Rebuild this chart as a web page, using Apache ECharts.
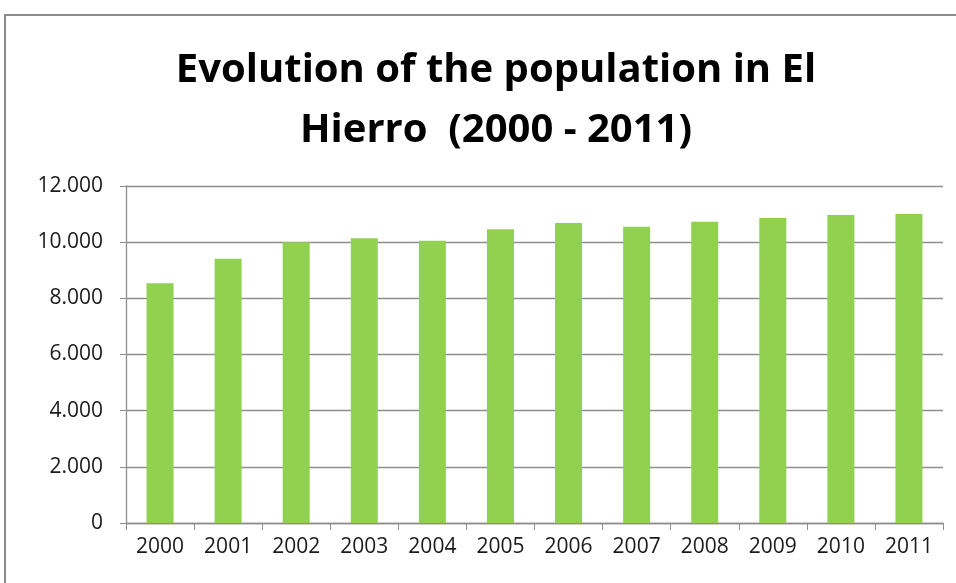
<!DOCTYPE html>
<html>
<head>
<meta charset="utf-8">
<script src="https://cdn.jsdelivr.net/npm/echarts@6/dist/echarts.min.js"></script>
<style>
    html, body { margin: 0; padding: 0; background: #fff; }
    #chart { width: 956px; height: 583px; }
</style>
</head>
<body>
<div id="chart"></div>
<script>
// years on the x axis
var years = ['2000', '2001', '2002', '2003', '2004', '2005', '2006', '2007', '2008', '2009', '2010', '2011'];
// inhabitants
var population = [8536, 9413, 9995, 10139, 10054, 10459, 10684, 10552, 10730, 10862, 10969, 11004];
// y axis ticks
var yTicks = [0, 2000, 4000, 6000, 8000, 10000, 12000];

var titleText = 'Evolution of the population in El\nHierro  (2000 - 2011)';
var labelFont = '"Open Sans", "Liberation Sans", sans-serif';

// 12000 -> "12.000"
function dotThousands(v) {
    return String(v).replace(/\B(?=(\d{3})+(?!\d))/g, '.');
}

var chart = echarts.init(document.getElementById('chart'));

chart.setOption({
    animation: false,
    title: {
        text: titleText,
        left: 491,
        textAlign: 'center',
        top: 36,
        textStyle: {
            fontFamily: labelFont,
            fontWeight: 'bold',
            fontSize: 40,
            lineHeight: 60,
            color: '#000'
        }
    },
    graphic: [{
        type: 'rect',
        shape: { x: 5, y: 15, width: 960, height: 600 },
        style: { fill: null, stroke: '#8c8c8c', lineWidth: 2 },
        silent: true
    }],
    grid: {
        left: 126,
        right: 13,
        top: 186,
        bottom: 60
    },
    xAxis: {
        type: 'category',
        data: years,
        axisLine: { lineStyle: { color: '#8e8e8e', width: 1.3 } },
        axisTick: { show: true, length: 7, lineStyle: { color: '#8e8e8e' } },
        axisLabel: {
            margin: 14,
            fontFamily: labelFont,
            fontSize: 21,
            color: '#1a1a1a'
        }
    },
    yAxis: {
        type: 'value',
        min: yTicks[0],
        max: yTicks[yTicks.length - 1],
        interval: yTicks[1] - yTicks[0],
        axisLine: { show: true, lineStyle: { color: '#8e8e8e', width: 1.3 } },
        axisTick: { show: true, length: 6, lineStyle: { color: '#8e8e8e' } },
        splitLine: { lineStyle: { color: '#8e8e8e', width: 1.3 } },
        axisLabel: {
            margin: 23,
            fontFamily: labelFont,
            fontSize: 21,
            color: '#1a1a1a',
            formatter: dotThousands
        }
    },
    series: [{
        type: 'bar',
        data: population,
        barWidth: 27,
        itemStyle: { color: '#92d050' }
    }]
});
</script>
</body>
</html>
